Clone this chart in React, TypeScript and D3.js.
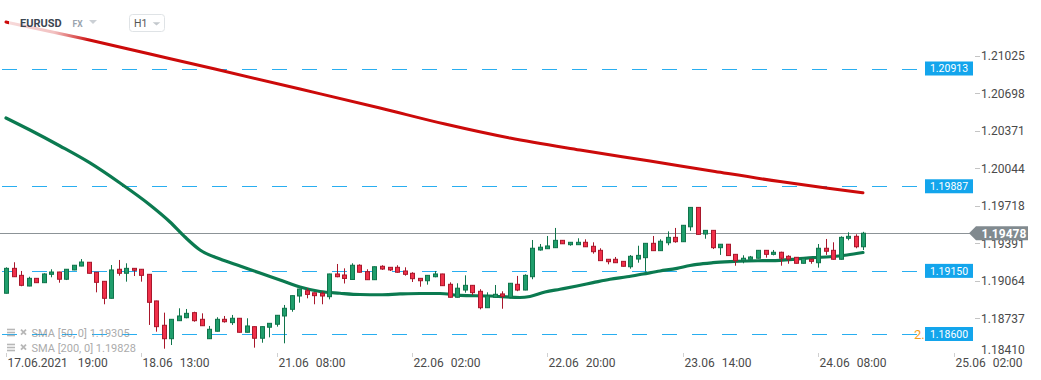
import React from "react";
import * as d3 from "d3";

const W = 1041;
const H = 380;

// Hourly candles (index 0 = 17.06.2021 19:00)
const opens = [1.18955,1.19172,1.19111,1.19018,1.19085,1.19047,1.19120,1.19140,1.19077,1.19158,1.19192,1.19225,1.19138,1.19059,1.18911,1.19164,1.19129,1.19172,1.19164,1.19120,1.18888,1.18676,1.18559,1.18716,1.18742,1.18786,1.18728,1.18559,1.18624,1.18728,1.18699,1.18737,1.18615,1.18664,1.18563,1.18659,1.18685,1.18757,1.18815,1.18931,1.18977,1.18959,1.18955,1.18925,1.19123,1.19114,1.19075,1.19199,1.19143,1.19073,1.19190,1.19181,1.19181,1.19149,1.19129,1.19085,1.19064,1.19099,1.19123,1.19033,1.18920,1.18983,1.19024,1.18972,1.18829,1.18920,1.18949,1.18920,1.19033,1.18983,1.19099,1.19332,1.19343,1.19352,1.19416,1.19378,1.19378,1.19399,1.19364,1.19329,1.19251,1.19251,1.19233,1.19186,1.19253,1.19265,1.19390,1.19326,1.19395,1.19442,1.19404,1.19534,1.19703,1.19471,1.19503,1.19352,1.19382,1.19294,1.19239,1.19251,1.19260,1.19329,1.19294,1.19312,1.19277,1.19268,1.19216,1.19251,1.19221,1.19347,1.19329,1.19251,1.19434,1.19451,1.19360];
const highs = [1.19181,1.19225,1.19149,1.19099,1.19087,1.19129,1.19164,1.19142,1.19166,1.19201,1.19253,1.19227,1.19140,1.19061,1.19201,1.19245,1.19216,1.19174,1.19166,1.19122,1.18890,1.18786,1.18730,1.18824,1.18818,1.18794,1.18780,1.18670,1.18746,1.18757,1.18766,1.18739,1.18737,1.18666,1.18666,1.18695,1.18765,1.18853,1.18936,1.18994,1.18998,1.18961,1.18970,1.19125,1.19210,1.19172,1.19216,1.19207,1.19164,1.19188,1.19199,1.19183,1.19199,1.19181,1.19138,1.19087,1.19113,1.19149,1.19125,1.19050,1.19042,1.19111,1.19026,1.18990,1.18963,1.19027,1.18972,1.19044,1.19106,1.19120,1.19419,1.19384,1.19454,1.19524,1.19418,1.19401,1.19434,1.19425,1.19399,1.19347,1.19253,1.19271,1.19235,1.19288,1.19369,1.19392,1.19454,1.19425,1.19494,1.19524,1.19549,1.19705,1.19705,1.19505,1.19505,1.19384,1.19384,1.19296,1.19286,1.19280,1.19331,1.19331,1.19332,1.19317,1.19286,1.19270,1.19262,1.19253,1.19384,1.19428,1.19399,1.19451,1.19486,1.19469,1.19490];
const lows = [1.18953,1.19097,1.19016,1.19016,1.19045,1.19045,1.19094,1.19047,1.19070,1.19156,1.19190,1.19127,1.18963,1.18859,1.18909,1.19108,1.19056,1.19105,1.19056,1.18679,1.18620,1.18472,1.18504,1.18714,1.18737,1.18707,1.18671,1.18557,1.18622,1.18699,1.18679,1.18613,1.18613,1.18481,1.18524,1.18571,1.18664,1.18519,1.18794,1.18873,1.18911,1.18859,1.18859,1.18902,1.19094,1.19040,1.19071,1.19136,1.19071,1.19071,1.19158,1.19149,1.19134,1.19108,1.19053,1.19012,1.19030,1.19094,1.19019,1.18918,1.18918,1.18960,1.18940,1.18815,1.18827,1.18918,1.18820,1.18911,1.18973,1.18981,1.19077,1.19326,1.19341,1.19350,1.19384,1.19369,1.19376,1.19358,1.19300,1.19237,1.19207,1.19219,1.19188,1.19169,1.19221,1.19143,1.19324,1.19324,1.19373,1.19395,1.19402,1.19499,1.19466,1.19430,1.19340,1.19289,1.19281,1.19195,1.19216,1.19249,1.19258,1.19265,1.19285,1.19195,1.19212,1.19214,1.19214,1.19212,1.19178,1.19289,1.19249,1.19249,1.19416,1.19347,1.19332];
const closes = [1.19172,1.19099,1.19024,1.19085,1.19047,1.19123,1.19140,1.19077,1.19164,1.19199,1.19227,1.19129,1.19050,1.18911,1.19158,1.19129,1.19172,1.19155,1.19111,1.18876,1.18664,1.18559,1.18728,1.18757,1.18780,1.18716,1.18672,1.18641,1.18728,1.18707,1.18737,1.18615,1.18670,1.18563,1.18664,1.18693,1.18763,1.18824,1.18934,1.18992,1.18945,1.18934,1.18931,1.19123,1.19099,1.19084,1.19199,1.19138,1.19073,1.19186,1.19166,1.19158,1.19138,1.19120,1.19082,1.19064,1.19111,1.19123,1.19021,1.18920,1.18999,1.19024,1.18960,1.18829,1.18931,1.18946,1.18929,1.19042,1.18983,1.19111,1.19347,1.19356,1.19367,1.19416,1.19386,1.19399,1.19399,1.19360,1.19317,1.19239,1.19230,1.19221,1.19190,1.19277,1.19285,1.19390,1.19326,1.19408,1.19442,1.19404,1.19547,1.19703,1.19468,1.19503,1.19352,1.19382,1.19283,1.19239,1.19260,1.19271,1.19329,1.19294,1.19312,1.19260,1.19253,1.19216,1.19260,1.19233,1.19347,1.19321,1.19251,1.19442,1.19451,1.19360,1.19478];

// SMA 50 (green): [bar index, value]
const sma50Idx = [0,3.19,7.18,11.17,15.16,19.15,21.81,23.8,25.8,28.46,31.12,33.78,36.44,39.1,41.76,44.41,47.07,49.73,52.39,55.05,57.71,60.37,64.36,68.35,69.68,71.68,73.67,75.93,78.06,80.32,82.58,84.71,86.97,89.23,90.96,91.89,94.02,96.28,98.54,100.66,102.93,105.19,107.31,109.57,111.84,113.96];
const sma50Val = [1.20482,1.20377,1.20238,1.20090,1.19915,1.19724,1.19576,1.19445,1.19332,1.19253,1.19192,1.19131,1.19071,1.19010,1.18970,1.18955,1.18944,1.18942,1.18949,1.18953,1.18953,1.18936,1.18931,1.18918,1.18927,1.18966,1.18990,1.19018,1.19047,1.19077,1.19099,1.19123,1.19149,1.19172,1.19197,1.19207,1.19221,1.19230,1.19236,1.19239,1.19242,1.19253,1.19265,1.19273,1.19288,1.19310];
// SMA 200 (red)
const sma200Idx = [0,10.51,19.15,27.79,39.1,49.73,58.38,67.02,76.33,85.64,94.28,102.93,109.57,113.96];
const sma200Val = [1.21318,1.21170,1.21039,1.20908,1.20734,1.20569,1.20429,1.20307,1.20203,1.20107,1.20016,1.19928,1.19868,1.19830];

const yTicks = [1.21025,1.20698,1.20371,1.20044,1.19718,1.19391,1.19064,1.18737,1.1841];
const xTickIdx = [0,18,36,54,72,90,108,126];
const xTickDates = ["17.06.2021","18.06","21.06","22.06","22.06","23.06","24.06","25.06"];
const xTickTimes = ["19:00","13:00","08:00","02:00","20:00","14:00","08:00","02:00"];
const levels = [1.20913,1.19887,1.1915,1.186];
const lastPrice = 1.19478;
const legendRows = ["SMA [50, 0] 1.19305","SMA [200, 0] 1.19828"];

const FONT = "Roboto, 'Noto Sans', sans-serif";

export default function App() {
  const x = d3.scaleLinear().domain([0, 126]).range([6, 953.5]);
  const y = d3.scaleLinear().domain([1.186, 1.20913]).range([334, 68.5]);

  const line = d3
    .line<[number, number]>()
    .x((d) => x(d[0]))
    .y((d) => y(d[1]))
    .curve(d3.curveMonotoneX);

  const sma50 = sma50Idx.map((v, i) => [v, sma50Val[i]] as [number, number]);
  const sma200 = sma200Idx.map((v, i) => [v, sma200Val[i]] as [number, number]);

  const lastY = y(lastPrice);

  return (
    <svg
      width={W}
      height={H}
      style={{ position: "absolute", left: 0, top: 0, background: "#fff", fontFamily: FONT }}
    >
      <defs>
        <linearGradient id="hdrFade" x1="0" x2="1" y1="0" y2="0">
          <stop offset="0%" stopColor="#fff" stopOpacity={0.85} />
          <stop offset="55%" stopColor="#fff" stopOpacity={0.75} />
          <stop offset="100%" stopColor="#fff" stopOpacity={0} />
        </linearGradient>
      </defs>
      <rect x={0} y={0} width={W} height={H} fill="#fff" />

      {/* level dashed lines */}
      {levels.map((lv, i) => (
        <line
          key={"lv" + i}
          x1={2}
          x2={921}
          y1={Math.round(y(lv)) + 0.5}
          y2={Math.round(y(lv)) + 0.5}
          stroke="#29aef0"
          strokeWidth={1}
          strokeDasharray="15,15"
        />
      ))}

      {/* current price line */}
      <line x1={0} x2={970} y1={Math.round(lastY) + 0.5} y2={Math.round(lastY) + 0.5} stroke="#8c9397" strokeWidth={1} />

      {/* SMA lines */}
      <path d={line(sma200) || ""} fill="none" stroke="#cc0a0a" strokeWidth={3} strokeLinecap="round" />
      <path d={line(sma50) || ""} fill="none" stroke="#0b7a50" strokeWidth={3.2} strokeLinecap="round" />

      {/* candles */}
      {opens.map((o, i) => {
        const c = closes[i];
        const up = c >= o;
        const cx = Math.round(x(i));
        const top = y(Math.max(o, c));
        const bot = y(Math.min(o, c));
        const stroke = up ? "#10744b" : "#a8172b";
        const fill = up ? "#1f9e6c" : "#f0304a";
        const bh = Math.max(bot - top, 1);
        return (
          <g key={"c" + i}>
            <line x1={cx + 0.5} x2={cx + 0.5} y1={y(highs[i])} y2={y(lows[i])} stroke={stroke} strokeWidth={1} />
            <rect x={cx - 1.5} y={top} width={4} height={bh} fill={fill} stroke={stroke} strokeWidth={1} />
          </g>
        );
      })}

      {/* header */}
      <rect x={9} y={8} width={82} height={32} fill="url(#hdrFade)" />
      <text x={20} y={27.3} fontSize={11} fontWeight="bold" fill="#3b4652">EURUSD</text>
      <text x={72.5} y={26.7} fontSize={8.5} fontWeight="bold" fill="#9aa4ae">FX</text>
      <path d="M89,20 L97,20 L93,24 Z" fill="#cbd0d5" />
      <rect x={129.5} y={14.5} width={35} height={17} rx={3} fill="#fff" stroke="#dfe3e6" />
      <text x={134} y={27.3} fontSize={10.5} fill="#555">H1</text>
      <path d="M152.7,22.3 L160.3,22.3 L156.5,25.6 Z" fill="#c3c8cd" />

      {/* right axis */}
      {yTicks.map((t, i) => {
        const ty = y(t);
        const last = i === yTicks.length - 1;
        const ly = last ? 354.2 : ty + 4.5;
        return (
          <g key={"yt" + i}>
            {!last && <line x1={975} x2={980} y1={Math.round(ty) + 0.5} y2={Math.round(ty) + 0.5} stroke="#c4c4c4" />}
            <text x={981} y={ly} fontSize={12} fill="#4a4a4a">{t.toFixed(5)}</text>
          </g>
        );
      })}

      {/* orange hidden label */}
      <text x={914} y={339} fontSize={13} fill="#f59f1d">2.</text>

      {/* level labels */}
      {levels.map((lv, i) => {
        const ly = y(lv);
        return (
          <g key={"ll" + i}>
            <rect x={925} y={ly - 7} width={48} height={14} fill="#13a5ec" />
            <text x={949} y={ly + 3.8} fontSize={10.5} fill="#fff" textAnchor="middle">{lv.toFixed(5)}</text>
          </g>
        );
      })}

      {/* last price label */}
      <path
        d={`M969,${lastY} L976,${lastY - 7} L1028,${lastY - 7} L1028,${lastY + 7} L976,${lastY + 7} Z`}
        fill="#818a8f"
      />
      <text x={981.5} y={lastY + 4.3} fontSize={12} fontWeight="bold" fill="#fff">{lastPrice.toFixed(5)}</text>

      {/* x axis */}
      {xTickIdx.map((t, i) => {
        const tx = Math.round(x(t)) + 0.5;
        return (
          <g key={"xt" + i}>
            <line x1={tx} x2={tx} y1={353} y2={357} stroke="#d0d0d0" />
            <text x={tx + 1} y={366.5} fontSize={12} fill="#4a4a4a">
              <tspan>{xTickDates[i]}</tspan>
              <tspan dx={i === 0 ? 10 : 7}>{xTickTimes[i]}</tspan>
            </text>
          </g>
        );
      })}

      {/* legend */}
      {legendRows.map((r, i) => {
        const cy = 332.7 + i * 15;
        return (
          <g key={"lg" + i} opacity={0.75}>
            <rect x={7} y={cy - 4} width={8} height={1.6} fill="#a0a0a0" />
            <rect x={7} y={cy - 1} width={8} height={1.6} fill="#a0a0a0" />
            <rect x={7} y={cy + 2} width={8} height={1.6} fill="#a0a0a0" />
            <path d={`M21,${cy - 3} L26,${cy + 2} M26,${cy - 3} L21,${cy + 2}`} stroke="#a0a0a0" strokeWidth={1.8} />
            <text x={31.5} y={cy + 4} fontSize={11} fill="#8f8f8f">{r}</text>
          </g>
        );
      })}
    </svg>
  );
}
